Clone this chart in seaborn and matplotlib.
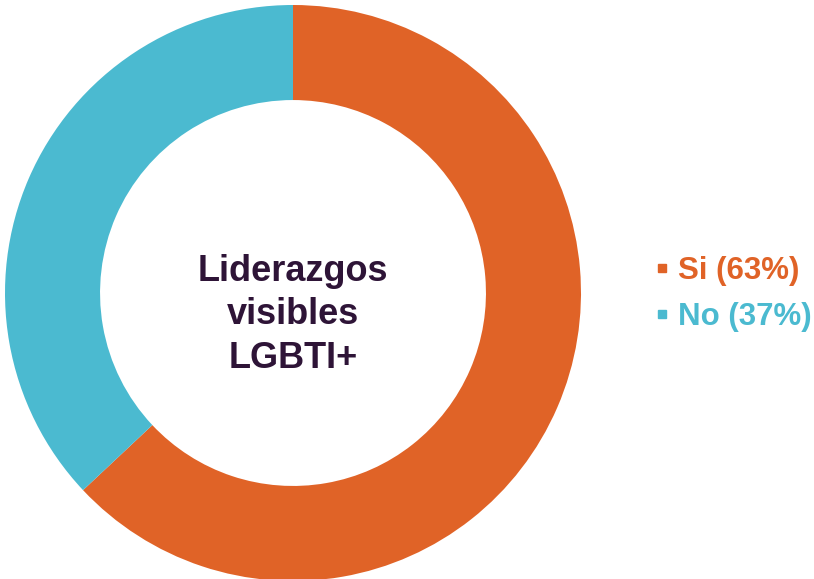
import numpy as np
import matplotlib
matplotlib.use("Agg")
import matplotlib.pyplot as plt
from matplotlib.lines import Line2D
import seaborn as sns

# data
labels = ["Si", "No"]
values = [63, 37]
center_title = "Liderazgos\nvisibles\nLGBTI+"

colors = ["#E06327", "#4BBAD0"]
text_color = "#2E1437"

sns.set_theme(style="white")
plt.rcParams['font.family'] = ['Liberation Sans', 'DejaVu Sans']

fig = plt.figure(figsize=(8.14, 5.79), dpi=100)
ax = fig.add_axes([5 / 814, -2 / 579, 576 / 814, 576 / 579])

ax.pie(values, colors=colors, startangle=90, counterclock=False,
       radius=1, wedgeprops=dict(width=0.33, edgecolor="none"))
ax.set_xlim(-1, 1)
ax.set_ylim(-1, 1)
ax.set_aspect("equal")
ax.axis("off")

ax.text(0, -0.076, center_title, ha="center", va="center", fontsize=26,
        fontweight="bold", color=text_color, linespacing=1.32)

handles = [Line2D([], [], marker="s", linestyle="none", markersize=6,
                  markerfacecolor=c, markeredgecolor=c) for c in colors]
leg_labels = [f"{l} ({v}%)" for l, v in zip(labels, values)]
leg = fig.legend(handles, leg_labels, loc="center left",
                 bbox_to_anchor=(654 / 814, 285 / 579), frameon=False,
                 prop=dict(size=22.5, weight="bold"), handlelength=0.5,
                 handletextpad=0.26, labelspacing=0.5, labelcolor=colors,
                 borderpad=0, borderaxespad=0)

fig.savefig("out.png", dpi=100, facecolor="white")
